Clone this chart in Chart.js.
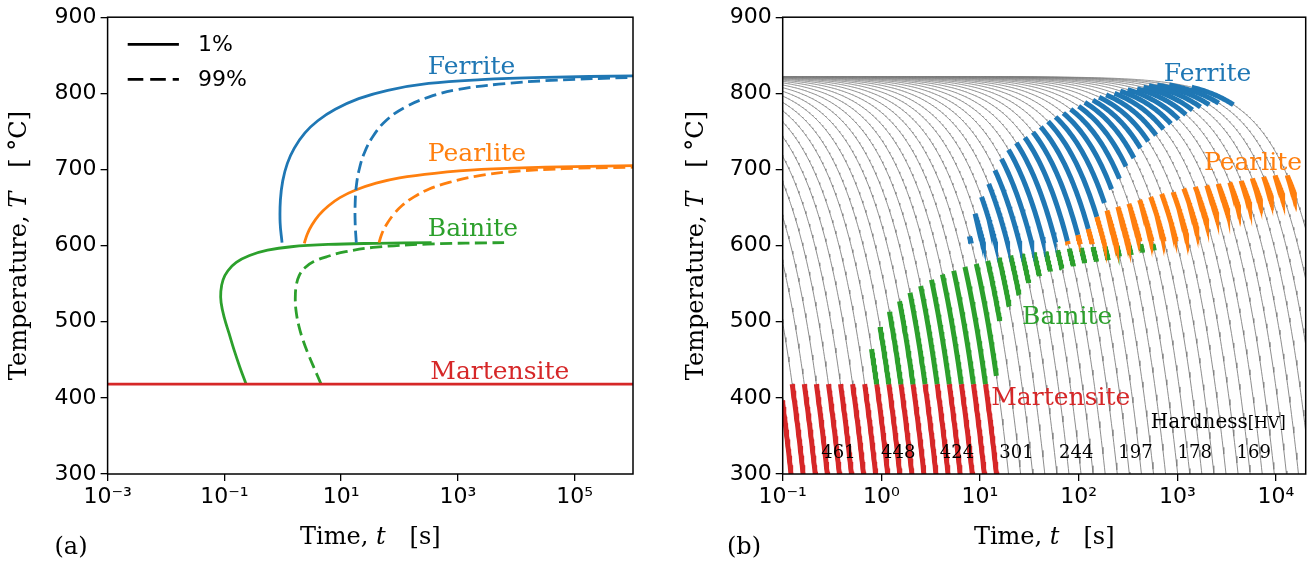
<!DOCTYPE html>
<html>
<head>
<meta charset="utf-8">
<script src="https://cdn.jsdelivr.net/npm/chart.js@4.4.0/dist/chart.umd.min.js"></script>
<style>
  body{margin:0;background:#fff;width:1315px;height:568px;overflow:hidden;position:relative}
  canvas{position:absolute;top:0}
  #left{left:0}
  #right{left:660px}
</style>
</head>
<body>
<canvas id="left" width="660" height="568"></canvas>
<canvas id="right" width="655" height="568"></canvas>
<script>
// ---------- (a) isothermal transformation curves: 1 % and 99 % ----------
const ferrite1Time = [0.973, 0.902, 0.912, 1.0, 1.20, 1.58, 2.40, 3.98, 7.94, 20.0, 63.1, 316, 2510, 31600, 1e6];
const ferrite1Temp = [604, 630, 660, 685, 708, 728, 748, 764, 779, 793, 804, 813, 818, 821, 823];
const ferrite99Time = [18.2, 17.4, 17.4, 18.2, 20.4, 25.1, 35.5, 60.3, 126, 316, 1000, 5010, 39800, 1e6];
const ferrite99Temp = [604, 630, 655, 678, 700, 722, 744, 765, 782, 795, 805, 812, 817, 821];
const pearlite1Time = [2.34, 2.63, 3.16, 4.17, 6.03, 9.55, 17.8, 39.8, 100, 398, 2510, 31600, 1e6];
const pearlite1Temp = [603, 615, 627, 640, 652, 663, 673, 682, 689, 695, 700, 703, 705];
const pearlite99Time = [44.7, 50.1, 60.3, 79.4, 112, 178, 316, 708, 2000, 7940, 63100, 1e6];
const pearlite99Temp = [604, 616, 628, 641, 653, 664, 674, 683, 691, 697, 701, 703];
const bainite1Time = [0.236, 0.185, 0.148, 0.12, 0.1, 0.088, 0.087, 0.095, 0.115, 0.16, 0.27, 0.55, 1.4, 6, 40, 355];
const bainite1Temp = [418, 440, 462, 485, 505, 525, 540, 555, 567, 578, 587, 594, 598.5, 601.5, 603, 604];
const bainite99Time = [4.54, 3.5, 2.75, 2.22, 1.88, 1.7, 1.64, 1.7, 1.92, 2.4, 3.4, 6, 12, 40, 300, 6200];
const bainite99Temp = [418, 438, 457, 476, 495, 513, 530, 547, 561, 571, 579, 586, 592, 598, 602, 604];
const martensiteTime = [1e-3, 1e6];
const martensiteTemp = [418, 418];

// ---------- (b) continuous cooling: rates in degC/s, phase ranges per rate ----------
const coolStart = 822;
const coolingRates = [10000, 7543, 5690, 4292, 3237, 2442, 1842, 1389, 1048, 790.6,
  596.4, 449.9, 339.3, 256.0, 193.1, 145.7, 109.9, 82.86, 62.51, 47.15,
  35.56, 26.83, 20.24, 15.26, 11.51, 8.685, 6.551, 4.942, 3.728, 2.812,
  2.121, 1.600, 1.207, 0.9103, 0.6866, 0.5179, 0.3907, 0.2947, 0.2223, 0.1677,
  0.1265, 0.0954, 0.0720, 0.0543, 0.0409, 0.0309, 0.0233, 0.0176, 0.0133, 0.0100];
const none = n => Array(n).fill(null);
const ferriteFrom = none(21).concat([612, 642, 664, 681, 699, 714, 726, 735, 742, 749, 756, 763, 769, 774, 779,
  783, 788, 791, 795, 798, 800, 803, 805, 806, 808, 810, 811, 811, 808]);
const ferriteTo = none(21).concat([603, 603, 603, 603, 603, 603, 603, 604, 606, 614, 622, 638, 656, 674, 688,
  704, 715, 728, 737, 745, 753, 760, 766, 772, 778, 782, 785, 787, 785]);
const pearliteFrom = none(29).concat([606, 614, 622, 638, 646, 651, 655, 660, 664, 668, 670, 675, 677, 679, 681,
  683, 685, 688, 690, 692, 692]);
const pearliteTo = none(29).concat([602, 602, 602, 602, 602, 602, 605, 605, 605, 605, 614, 623, 631, 640, 644,
  651, 653, 660, 664, 666, 668]);
const bainiteFrom = none(11).concat([464, 493, 513, 527, 538, 547, 555, 562, 567, 572, 576, 580, 584, 587, 589,
  591, 592, 594, 596, 597, 598, 599, 600, 601, 602, 602], none(13));
const bainiteTo = none(11).concat([418, 418, 418, 418, 418, 418, 418, 418, 418, 418, 429, 501, 520, 535, 551,
  560, 566, 569, 573, 577, 579, 581, 586, 588, 591, 594], none(13));
const martensiteFrom = none(3).concat(Array(18).fill(418), none(29));
const hardnessValues = ['461', '448', '424', '301', '244', '197', '178', '169'];
const hardnessTimes = [0.367, 1.48, 5.84, 23.4, 94.3, 377, 1498, 5952];

const leftTicks = [1e-3, 1e-1, 1e1, 1e3, 1e5];
const rightTicks = [1e-1, 1, 1e1, 1e2, 1e3, 1e4];

const SANS = '"DejaVu Sans", sans-serif';
const SERIF = '"DejaVu Serif", serif';
const BLUE = '#1f77b4', ORANGE = '#ff7f0e', GREEN = '#2ca02c', RED = '#d62728';

const sup = {'-': '\u207B', '0': '\u2070', '1': '\u00B9', '2': '\u00B2', '3': '\u00B3', '4': '\u2074', '5': '\u2075', '6': '\u2076'};
const powLabel = v => '10' + String(Math.round(Math.log10(v))).split('').map(c => sup[c]).join('');

const line = (ts, Ts, color, dash) => ({
  data: ts.map((t, i) => ({x: t, y: Ts[i]})), showLine: true, borderColor: color,
  borderWidth: 2.8, borderDash: dash ? [12, 5.5] : [], tension: 0.4, pointRadius: 0, clip: 0
});

// constant-rate cooling path from coolStart, sampled in log time
function coolingPath(r) {
  const pts = [];
  for (let k = 0; k <= 700; k++) {
    const t = 10 ** (-1.1 + k * 0.0078);
    const T = coolStart - r * t;
    pts.push({x: t, y: T});
    if (T < 290) break;
  }
  return {data: pts, showLine: true, borderColor: '#808080', borderWidth: 0.9,
    pointRadius: 0, tension: 0, order: 2, clip: 0};
}

// thick segment of a cooling path between two temperatures
function stripe(r, from, to, color) {
  const pts = [];
  for (let k = 0; k <= 30; k++) {
    const T = from + (to - from) * k / 30;
    pts.push({x: (coolStart - T) / r, y: T});
  }
  return {data: pts, showLine: true, borderColor: color, borderWidth: 5, pointRadius: 0,
    tension: 0, order: 1, clip: 0, borderCapStyle: 'butt'};
}

const leftSets = [
  line(martensiteTime, martensiteTemp, RED),
  line(ferrite1Time, ferrite1Temp, BLUE), line(ferrite99Time, ferrite99Temp, BLUE, true),
  line(pearlite1Time, pearlite1Temp, ORANGE), line(pearlite99Time, pearlite99Temp, ORANGE, true),
  line(bainite1Time, bainite1Temp, GREEN), line(bainite99Time, bainite99Temp, GREEN, true)
];

const rightSets = [];
coolingRates.forEach((r, j) => {
  rightSets.push(coolingPath(r));
  if (ferriteFrom[j] !== null) rightSets.push(stripe(r, ferriteFrom[j], ferriteTo[j], BLUE));
  if (pearliteFrom[j] !== null) rightSets.push(stripe(r, pearliteFrom[j], pearliteTo[j], ORANGE));
  if (bainiteFrom[j] !== null) rightSets.push(stripe(r, bainiteFrom[j], bainiteTo[j], GREEN));
  if (martensiteFrom[j] !== null) rightSets.push(stripe(r, martensiteFrom[j], 290, RED));
});

function axisOptions(xmin, xmax, tickVals, yWidth, rightPad) {
  const tickFont = {family: SANS, size: 22};
  const grid = {drawOnChartArea: false, drawTicks: true, tickLength: 7, color: '#000', lineWidth: 1.3};
  return {
    responsive: false, animation: false, devicePixelRatio: 1,
    layout: {padding: {top: 14, right: rightPad, left: 0, bottom: 0}},
    plugins: {legend: {display: false}, tooltip: {enabled: false}},
    scales: {
      x: {type: 'logarithmic', min: xmin, max: xmax, bounds: 'data',
        afterBuildTicks: s => { s.ticks = tickVals.map(v => ({value: v})); },
        afterFit: s => { s.height = 94; },
        ticks: {callback: v => powLabel(v), font: tickFont, color: '#000', padding: 3,
          maxRotation: 0, minRotation: 0, autoSkip: false},
        grid: grid, border: {display: false}},
      y: {type: 'linear', min: 300, max: 900,
        afterFit: s => { s.width = yWidth; },
        ticks: {stepSize: 100, font: tickFont, color: '#000', padding: 4},
        grid: grid, border: {display: false}}
    }
  };
}

const frame = {
  id: 'frame',
  afterDatasetsDraw(chart) {
    const a = chart.chartArea, ctx = chart.ctx;
    ctx.save();
    ctx.strokeStyle = '#000';
    ctx.lineWidth = 1.5;
    ctx.strokeRect(a.left, a.top, a.right - a.left, a.bottom - a.top);
    ctx.restore();
  }
};

// draws a row of text pieces, each with its own font
function runs(ctx, parts, x, y, align) {
  let w = 0;
  parts.forEach(p => { ctx.font = p[1]; w += ctx.measureText(p[0]).width; });
  let cx = align === 'center' ? x - w / 2 : x;
  parts.forEach(p => { ctx.font = p[1]; ctx.fillText(p[0], cx, y + (p[2] || 0)); cx += ctx.measureText(p[0]).width; });
}

function axisTitles(chart, yTitleX, tag, tagX) {
  const ctx = chart.ctx, a = chart.chartArea;
  const f = '24px ' + SERIF, fi = 'italic 24px ' + SERIF;
  ctx.fillStyle = '#000';
  ctx.textBaseline = 'middle';
  ctx.textAlign = 'left';
  runs(ctx, [['Time, ', f], ['t', fi], ['\u2002\u2002[s]', f]], (a.left + a.right) / 2, 538, 'center');
  ctx.save();
  ctx.translate(yTitleX, (a.top + a.bottom) / 2);
  ctx.rotate(-Math.PI / 2);
  runs(ctx, [['Temperature, ', f], ['T', fi], ['\u2002\u2002[ \u00B0C]', f]], 0, 0, 'center');
  ctx.restore();
  ctx.font = '24px ' + SERIF;
  ctx.textAlign = 'center';
  ctx.fillText(tag, tagX, 548);
}

function phaseLabel(chart, text, t, T, color) {
  const ctx = chart.ctx;
  ctx.font = '25px ' + SERIF;
  ctx.fillStyle = color;
  ctx.textAlign = 'left';
  ctx.textBaseline = 'alphabetic';
  ctx.fillText(text, chart.scales.x.getPixelForValue(t), chart.scales.y.getPixelForValue(T));
}

const leftText = {
  id: 'leftText',
  afterDraw(chart) {
    const ctx = chart.ctx;
    ctx.save();
    phaseLabel(chart, 'Ferrite', 306, 826, BLUE);
    phaseLabel(chart, 'Pearlite', 306, 710.5, ORANGE);
    phaseLabel(chart, 'Bainite', 306, 612, GREEN);
    phaseLabel(chart, 'Martensite', 337, 425, RED);
    // legend
    ctx.strokeStyle = '#000';
    ctx.lineWidth = 2.8;
    ctx.beginPath(); ctx.moveTo(127.7, 44.3); ctx.lineTo(178.9, 44.3); ctx.stroke();
    ctx.setLineDash([15.6, 6.9]);
    ctx.beginPath(); ctx.moveTo(127.7, 79.3); ctx.lineTo(178.9, 79.3); ctx.stroke();
    ctx.setLineDash([]);
    ctx.fillStyle = '#000';
    ctx.font = '22px ' + SANS;
    ctx.textAlign = 'left';
    ctx.textBaseline = 'middle';
    ctx.fillText('1%', 198, 45);
    ctx.fillText('99%', 198, 80);
    axisTitles(chart, 20, '(a)', 71);
    ctx.restore();
  }
};

const rightText = {
  id: 'rightText',
  afterDraw(chart) {
    const ctx = chart.ctx, xs = chart.scales.x, ys = chart.scales.y;
    ctx.save();
    phaseLabel(chart, 'Ferrite', 728, 816.5, BLUE);
    phaseLabel(chart, 'Pearlite', 1862, 699, ORANGE);
    phaseLabel(chart, 'Bainite', 26.7, 497, GREEN);
    phaseLabel(chart, 'Martensite', 13, 390, RED);
    ctx.fillStyle = '#000';
    ctx.textBaseline = 'alphabetic';
    runs(ctx, [['Hardness', '20px ' + SERIF], ['[HV]', '16px ' + SERIF]], xs.getPixelForValue(538), ys.getPixelForValue(360), 'left');
    ctx.font = '18px ' + SERIF;
    ctx.textAlign = 'center';
    hardnessValues.forEach((h, i) => ctx.fillText(h, xs.getPixelForValue(hardnessTimes[i]), ys.getPixelForValue(321)));
    axisTitles(chart, 37, '(b)', 84);
    ctx.restore();
  }
};

new Chart(document.getElementById('left'), {
  type: 'scatter',
  data: {datasets: leftSets},
  options: axisOptions(1e-3, 1e6, leftTicks, 107.6, 27),
  plugins: [frame, leftText]
});

new Chart(document.getElementById('right'), {
  type: 'scatter',
  data: {datasets: rightSets},
  options: axisOptions(0.1, 2e4, rightTicks, 122.7, 9.3),
  plugins: [frame, rightText]
});
</script>
</body>
</html>
